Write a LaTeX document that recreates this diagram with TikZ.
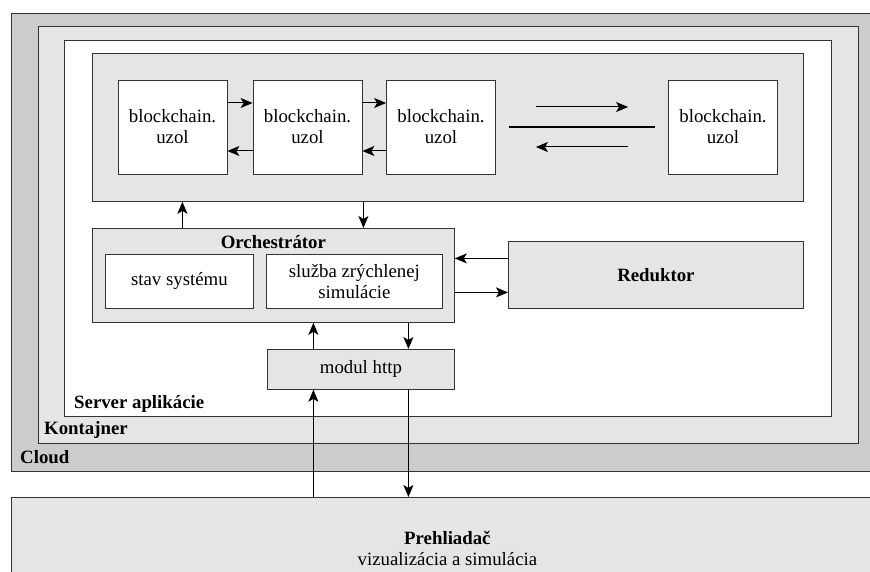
\documentclass[tikz,border=0pt]{standalone}
\usepackage{fontspec}
\setmainfont{Liberation Serif}
\usetikzlibrary{arrows.meta,positioning}

\definecolor{cloudgray}{HTML}{CCCCCC}
\definecolor{boxgray}{HTML}{E5E5E5}
\definecolor{edgegray}{HTML}{333333}

\tikzstyle{area} = [
        draw=edgegray, line width=0.8pt, rectangle, anchor=north west,
        inner sep=0pt, align=center
    ]
\tikzstyle{block} = [
        draw=edgegray, line width=0.8pt, fill=white, rectangle, align=center,
        minimum width=109pt, minimum height=94pt
    ]
\tikzstyle{title} = [font=\fontsize{18.8}{21}\selectfont\bfseries, inner sep=0pt]
\tikzstyle{link} = [line width=1pt]

\begin{document}
\begin{tikzpicture}[x=1pt, y=-1pt, font=\fontsize{18.8}{21}\selectfont,
        >={Stealth[length=12pt, width=10pt, inset=3pt]}]
        \useasboundingbox (0,0) rectangle (870,572);
        \clip (0,0) rectangle (870,572);
        \node [area, fill=cloudgray, minimum width=872pt, minimum height=458pt] (cloud) at (11,13) {};
        \node [area, fill=boxgray, minimum width=820pt, minimum height=417pt] (kontajner) at (38,26) {};
        \node [area, fill=white, minimum width=767pt, minimum height=376pt] (server) at (64,40) {};
        \node [title, anchor=base west] (cloudlbl) at (20,463) {Cloud};
        \node [title, anchor=base west] (kontajnerlbl) at (44,434) {Kontajner};
        \node [title, anchor=base west] (serverlbl) at (74,408) {Server aplikácie};
        \node [area, fill=boxgray, minimum width=711pt, minimum height=148pt] (chain) at (92,53) {};
        \node [block] (uzol1) at (172.5,127) {blockchain.\\uzol};
        \node [block, right of=uzol1, node distance=135pt] (uzol2) {blockchain.\\uzol};
        \node [block, right of=uzol2, node distance=133.5pt] (uzol3) {blockchain.\\uzol};
        \node [block, right of=uzol3, node distance=282pt] (uzol4) {blockchain.\\uzol};
        \draw [link, ->] ([yshift=24pt]uzol1.east) -- ([yshift=24pt]uzol2.west);
        \draw [link, ->] ([yshift=-24pt]uzol2.west) -- ([yshift=-24pt]uzol1.east);
        \draw [link, ->] ([yshift=24pt]uzol2.east) -- ([yshift=24pt]uzol3.west);
        \draw [link, ->] ([yshift=-24pt]uzol3.west) -- ([yshift=-24pt]uzol2.east);
        \draw [link, ->] ([xshift=40pt, yshift=20pt]uzol3.east) -- ([xshift=-40pt, yshift=20pt]uzol4.west);
        \draw [line width=1.6pt] ([xshift=13pt]uzol3.east) -- ([xshift=-13pt]uzol4.west);
        \draw [link, ->] ([xshift=-40pt, yshift=-20pt]uzol4.west) -- ([xshift=40pt, yshift=-20pt]uzol3.east);
        \node [area, fill=boxgray, minimum width=362pt, minimum height=94pt] (orch) at (92,228) {};
        \node [title, anchor=base] (orchlbl) at ([yshift=-20pt]orch.north) {Orchestrátor};
        \node [area, fill=white, minimum width=148pt, minimum height=54pt] (stav) at (105,254) {stav systému};
        \node [area, fill=white, minimum width=176pt, minimum height=54pt] (sluzba) at (266,254) {služba zrýchlenej\\simulácie};
        \node [area, fill=boxgray, minimum width=295pt, minimum height=67pt, font=\fontsize{18.8}{21}\selectfont\bfseries] (reduktor) at (508,241) {Reduktor};
        \node [area, fill=boxgray, minimum width=187pt, minimum height=40pt] (modul) at (267,349) {modul http};
        \node [area, fill=boxgray, minimum width=872pt, minimum height=102pt] (prehl) at (11,497) {\textbf{Prehliadač}\\vizualizácia a simulácia};
        \coordinate (chainup) at ([xshift=-91pt]orch.north);
        \coordinate (chaindown) at ([xshift=90pt]orch.north);
        \draw [link, ->] (chainup) -- (chainup |- chain.south);
        \draw [link, ->] (chaindown |- chain.south) -- (chaindown);
        \coordinate (redin) at ([yshift=16.5pt]reduktor.west);
        \coordinate (redout) at ([yshift=-17.5pt]reduktor.west);
        \draw [link, ->] (redin) -- (redin -| orch.east);
        \draw [link, ->] (redout -| orch.east) -- (redout);
        \coordinate (httpup) at ([xshift=-47.5pt]modul.north);
        \coordinate (httpdown) at ([xshift=47.5pt]modul.north);
        \draw [link, ->] (httpup) -- (httpup |- orch.south);
        \draw [link, ->] (httpdown |- orch.south) -- (httpdown);
        \draw [link, ->] (httpup |- prehl.north) -- (httpup |- modul.south);
        \draw [link, ->] (httpdown |- modul.south) -- (httpdown |- prehl.north);
    \end{tikzpicture}
\end{document}
